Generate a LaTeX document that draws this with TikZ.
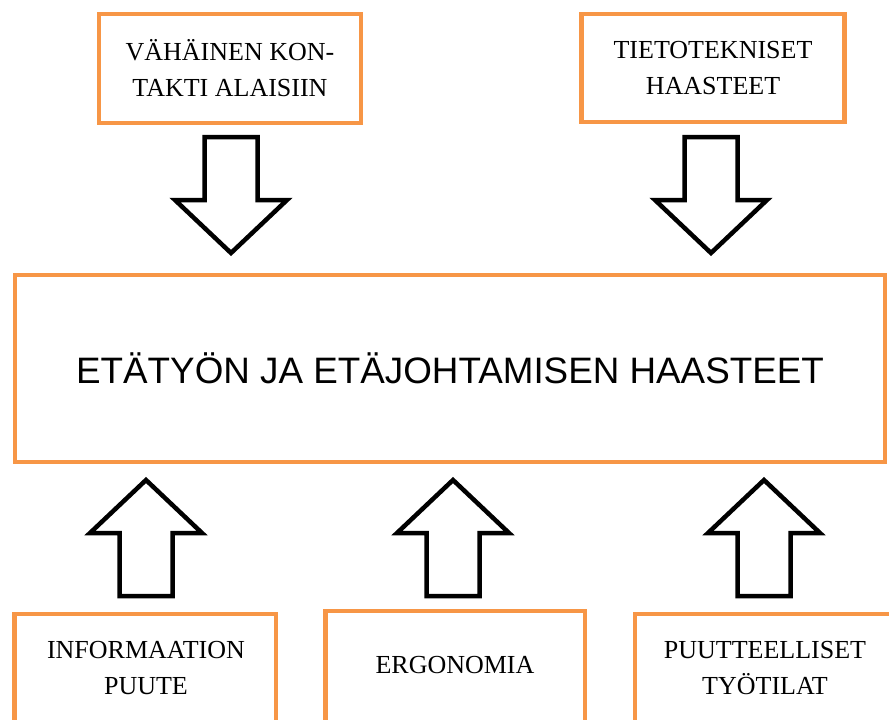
\documentclass[tikz,border=0pt]{standalone}
\usepackage{fontspec}
\setmainfont{Liberation Serif}
\newfontfamily\headfont{Liberation Sans}
\usepackage{xcolor}
\usetikzlibrary{calc,positioning}
\definecolor{boxorange}{HTML}{F79646}

\begin{document}
\begin{tikzpicture}[x=1pt, y=-1pt,
    cbox/.style={draw=boxorange, line width=4.5pt, outer sep=0pt, inner sep=0pt},
    ctext/.style={align=center, font=\fontsize{26}{36}\selectfont},
    bigarrow/.style={draw=black, line width=4.5pt, fill=white}]
\path[use as bounding box, clip] (0,0) rectangle (889,720);

% Top boxes
\node[cbox, ctext, minimum width=262, minimum height=109] (vah) at (230,68.5) {VÄHÄINEN KON-\\TAKTI ALAISIIN};
\node[cbox, ctext, minimum width=263, minimum height=108] (tieto) at (713,68) {TIETOTEKNISET\\HAASTEET};

% Main box
\node[cbox, minimum width=870, minimum height=187, font=\headfont\fontsize{36.8}{44}\selectfont] (big) at (450,368.5) {ETÄTYÖN JA ETÄJOHTAMISEN HAASTEET};

% Bottom boxes (cut off by the page edge)
\node[cbox, minimum width=261.5, minimum height=140, anchor=north] (info) at (145,614) {};
\node[cbox, minimum width=259.5, minimum height=140, anchor=north] (ergo) at (455,611) {};
\node[cbox, minimum width=262, minimum height=140, anchor=north] (puute) at (766,614) {};
\node[ctext] (info-t) at ($(info.north)+(1,54.5)$) {INFORMAATION\\PUUTE};
\node[ctext] (ergo-t) at ($(ergo.north)+(0,54)$) {ERGONOMIA};
\node[ctext] (puute-t) at ($(puute.north)+(-1,54)$) {PUUTTEELLISET\\TYÖTILAT};

% Block arrows into the main box
\coordinate (a1) at ($(vah.south |- big.north)+(1,-22)$);
\coordinate (a2) at ($(tieto.south |- big.north)+(-2,-22)$);
\coordinate (a3) at ($(info.north |- big.south)+(1,18)$);
\coordinate (a4) at ($(ergo.north |- big.south)+(-2,18)$);
\coordinate (a5) at ($(puute.north |- big.south)+(-2,18)$);
\foreach \tip/\dir in {a1/1, a2/1, a3/-1, a4/-1, a5/-1} {
    \draw[bigarrow, shift={(\tip)}, yscale=\dir]
        (0,0) -- (-56,-53) -- (-26.5,-53) -- (-26.5,-116)
        -- (26.5,-116) -- (26.5,-53) -- (56,-53) -- cycle;
}
\end{tikzpicture}
\end{document}
